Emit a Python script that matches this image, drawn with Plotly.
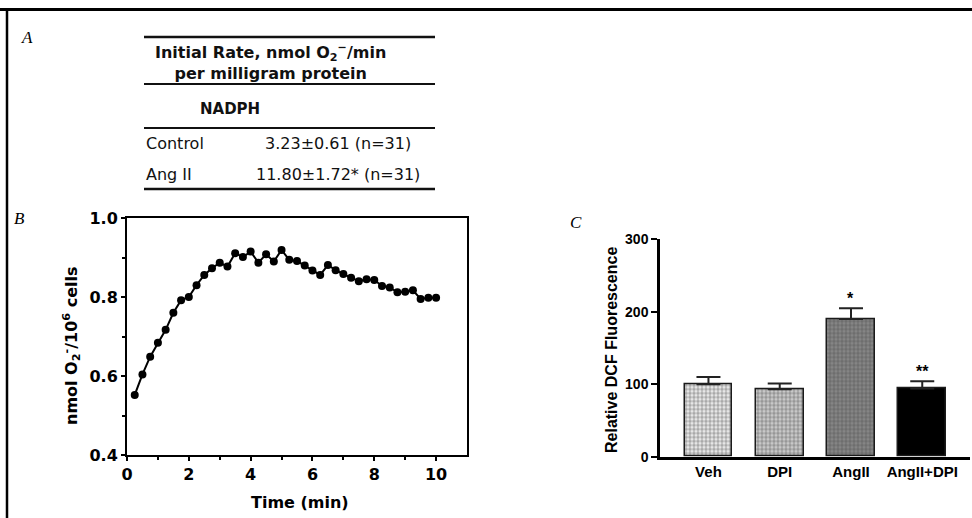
import plotly.graph_objects as go

W, H = 972, 518

# ---------------- data ----------------
# Panel B: superoxide production time course
time_min = [0.25, 0.5, 0.75, 1.0, 1.25, 1.5, 1.75, 2.0, 2.25, 2.5,
            2.75, 3.0, 3.25, 3.5, 3.75, 4.0, 4.25, 4.5, 4.75, 5.0,
            5.25, 5.5, 5.75, 6.0, 6.25, 6.5, 6.75, 7.0, 7.25, 7.5,
            7.75, 8.0, 8.25, 8.5, 8.75, 9.0, 9.25, 9.5, 9.75, 10.0]
o2_nmol = [0.552, 0.604, 0.649, 0.684, 0.717, 0.760, 0.792, 0.800, 0.830, 0.856,
           0.873, 0.887, 0.877, 0.911, 0.901, 0.915, 0.887, 0.908, 0.890, 0.919,
           0.894, 0.891, 0.880, 0.867, 0.856, 0.881, 0.868, 0.858, 0.849, 0.840,
           0.845, 0.843, 0.828, 0.824, 0.812, 0.813, 0.817, 0.795, 0.798, 0.798]
b_yticks = [0.4, 0.6, 0.8, 1.0]
b_yticklabels = ["0.4", "0.6", "0.8", "1.0"]
b_xticks = [0, 2, 4, 6, 8, 10]
b_xticklabels = ["0", "2", "4", "6", "8", "10"]

# Panel C: DCF fluorescence
groups = ["Veh", "DPI", "AngII", "AngII+DPI"]
dcf = [100, 93, 190, 94]
dcf_sem = [10, 8, 15, 10]
sig = ["", "", "*", "**"]
c_yticks = [0, 100, 200, 300]

# Panel A: table
table_header = ["Initial Rate, nmol O<sub>2</sub><sup>\u2212</sup>/min", "per milligram protein"]
table_sub = "NADPH"
row_names = ["Control", "Ang II"]
row_values = ["3.23\u00b10.61 (n=31)", "11.80\u00b11.72* (n=31)"]

# ---------------- helpers ----------------
def px(x):
    return x / W

def py(y):
    return 1 - y / H

BOLD = "DejaVu Sans"
ARIAL = "Liberation Sans"

fig = go.Figure()

# Panel B line
fig.add_trace(go.Scatter(
    x=time_min, y=o2_nmol, mode="lines+markers",
    line=dict(color="black", width=2),
    marker=dict(color="black", size=8),
    xaxis="x", yaxis="y", showlegend=False, hoverinfo="skip"))

# Panel C bars
bar_bg = ["#e6e6e6", "#c8c8c8", "#858585", "#000000"]
bar_fg = ["#d0d0d0", "#b2b2b2", "#a4a4a4", "#000000"]
fig.add_trace(go.Bar(
    x=list(range(len(groups))), y=dcf,
    width=0.67,
    marker=dict(
        color=bar_bg,
        line=dict(color="#1a1a1a", width=1.5),
        pattern=dict(shape=["+", "+", "+", ""],
                     fgcolor=bar_fg, fgopacity=1,
                     size=4, solidity=0.2, fillmode="overlay")),
    error_y=dict(type="data", symmetric=False, array=dcf_sem,
                 arrayminus=[0] * len(dcf_sem),
                 color="#222222", thickness=2, width=12),
    xaxis="x2", yaxis="y2", showlegend=False, hoverinfo="skip"))

layout_shapes = []
# outer frame: top and left rules
layout_shapes.append(dict(type="line", xref="paper", yref="paper",
                          x0=0, x1=1, y0=py(9.5), y1=py(9.5),
                          line=dict(color="black", width=3)))
layout_shapes.append(dict(type="line", xref="paper", yref="paper",
                          x0=px(7), x1=px(7), y0=py(9.5), y1=0,
                          line=dict(color="black", width=2.5)))
# table rules
for yy, wd in [(37, 2.5), (84, 2), (128, 2), (189, 2.5)]:
    layout_shapes.append(dict(type="line", xref="paper", yref="paper",
                              x0=px(144), x1=px(435), y0=py(yy), y1=py(yy),
                              line=dict(color="#111111", width=wd)))

annotations = []
# panel letters
for lab, xx, yy in [("A", 27, 38), ("B", 19, 219), ("C", 576, 222)]:
    annotations.append(dict(text="<i>" + lab + "</i>", x=px(xx), y=py(yy),
                            xref="paper", yref="paper", showarrow=False,
                            xanchor="center", yanchor="middle",
                            font=dict(family="Liberation Serif", size=17, color="black")))
# table text
annotations.append(dict(text="<b>" + table_header[0] + "<br>" + table_header[1] + "</b>",
                        x=px(270), y=py(62), align="center",
                        xref="paper", yref="paper", showarrow=False,
                        xanchor="center", yanchor="middle",
                        font=dict(family=BOLD, size=16, color="#111111")))
annotations.append(dict(text="<b>" + table_sub + "</b>", x=px(230), y=py(109),
                        xref="paper", yref="paper", showarrow=False,
                        xanchor="center", yanchor="middle",
                        font=dict(family=BOLD, size=15, color="#111111")))
for name, val, yy in zip(row_names, row_values, [143, 174]):
    annotations.append(dict(text=name, x=px(144), y=py(yy),
                            xref="paper", yref="paper", showarrow=False,
                            xanchor="left", yanchor="middle",
                            font=dict(family=BOLD, size=16, color="#111111")))
    annotations.append(dict(text=val, x=px(338), y=py(yy),
                            xref="paper", yref="paper", showarrow=False,
                            xanchor="center", yanchor="middle",
                            font=dict(family=BOLD, size=16, color="#111111")))
# panel B axis titles
annotations.append(dict(text="<b>nmol O<sub>2</sub><sup>-</sup>/10<sup>6</sup> cells</b>",
                        x=px(71), y=py(346), xref="paper", yref="paper",
                        showarrow=False, textangle=-90,
                        xanchor="center", yanchor="middle",
                        font=dict(family=BOLD, size=16, color="black")))
annotations.append(dict(text="<b>Time (min)</b>", x=px(300), y=py(502),
                        xref="paper", yref="paper", showarrow=False,
                        xanchor="center", yanchor="middle",
                        font=dict(family=BOLD, size=16, color="black")))
# panel C axis title
annotations.append(dict(text="<b>Relative DCF Fluorescence</b>",
                        x=px(611), y=py(350), xref="paper", yref="paper",
                        showarrow=False, textangle=-90,
                        xanchor="center", yanchor="middle",
                        font=dict(family=ARIAL, size=16, color="black")))
# significance marks
for i, s in enumerate(sig):
    if s:
        annotations.append(dict(text="<b>" + s + "</b>", x=i, y=dcf[i] + dcf_sem[i],
                                xref="x2", yref="y2", showarrow=False,
                                xanchor="center", yanchor="bottom", yshift=-1,
                                font=dict(family=ARIAL, size=16, color="black")))

fig.update_layout(
    width=W, height=H,
    margin=dict(l=0, r=0, t=0, b=0, autoexpand=False),
    paper_bgcolor="white", plot_bgcolor="white",
    shapes=layout_shapes, annotations=annotations,
    bargap=0,
    xaxis=dict(domain=[px(127), px(467)], range=[0, 11], anchor="y",
               tickvals=b_xticks, ticktext=["<b>" + t + "</b>" for t in b_xticklabels],
               ticks="outside", ticklen=4, tickwidth=1.5,
               tickcolor="black",
               minor=dict(tickvals=[1, 3, 5, 7, 9], ticks="outside", ticklen=3,
                          tickcolor="black"),
               showline=True, linecolor="black", linewidth=2, mirror=True,
               showgrid=False, zeroline=False,
               tickfont=dict(family=BOLD, size=16, color="black"), fixedrange=True),
    yaxis=dict(domain=[py(455), py(218)], range=[0.4, 1.0], anchor="x",
               tickvals=b_yticks, ticktext=["<b>" + t + "</b>" for t in b_yticklabels],
               ticks="outside", ticklen=4, tickwidth=1.5, tickcolor="black",
               minor=dict(tickvals=[0.5, 0.7, 0.9], ticks="outside", ticklen=3,
                          tickcolor="black"),
               showline=True, linecolor="black", linewidth=2, mirror=True,
               showgrid=False, zeroline=False,
               tickfont=dict(family=BOLD, size=16, color="black"), fixedrange=True),
    xaxis2=dict(domain=[px(660), px(970)], range=[-0.68, 3.67], anchor="y2",
                tickvals=list(range(len(groups))), ticktext=["<b>" + g + "</b>" for g in groups],
                ticks="", showline=True, linecolor="black", linewidth=2.5,
                showgrid=False, zeroline=False,
                tickfont=dict(family=ARIAL, size=15, color="black"), fixedrange=True),
    yaxis2=dict(domain=[py(456.7), py(239.3)], range=[0, 300], anchor="x2",
                tickvals=c_yticks, ticktext=["<b>%d</b>" % v for v in c_yticks],
                ticks="outside", ticklen=6, tickwidth=2, tickcolor="black",
                showline=True, linecolor="black", linewidth=2.5,
                showgrid=False, zeroline=False,
                tickfont=dict(family=ARIAL, size=14, color="black"), fixedrange=True),
)

fig.write_html("out.html", config={"displayModeBar": False},
               post_script="document.body.style.margin='0';document.body.style.overflow='hidden';")
